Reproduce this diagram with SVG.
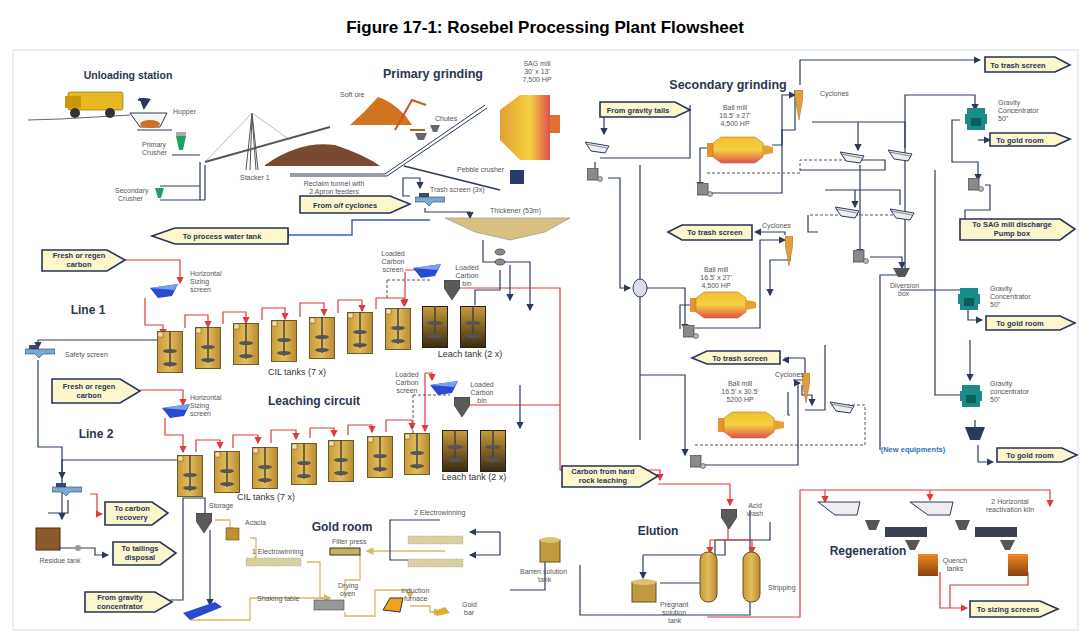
<svg xmlns="http://www.w3.org/2000/svg" width="1090" height="643" viewBox="0 0 1090 643">
<style>
text{font-family:"Liberation Sans",Arial,sans-serif;fill:#333}
.t{font-size:17px;font-weight:bold;fill:#000}
.h{font-weight:bold;fill:#2a3550}
.s{font-size:7px;fill:#555}
.tg{fill:#fbf6cc;stroke:#26335a;stroke-width:1.6}
.tt{font-size:7.5px;font-weight:bold;fill:#26335a;text-anchor:middle}
.n{fill:none;stroke:#2b3a5c;stroke-width:1.2}
.r{fill:none;stroke:#e03a3a;stroke-width:1.2}
.g{fill:none;stroke:#d8b86a;stroke-width:1.3}
.d{fill:none;stroke:#555;stroke-width:1;stroke-dasharray:3 2}
.bl{fill:none;stroke:#3a5ad0;stroke-width:1.4}
.pb{fill:#8a8a8a;stroke:#444;stroke-width:.8}
</style>
<defs>
<linearGradient id="tg" x1="0" y1="0" x2="1" y2="0"><stop offset="0" stop-color="#c99a3a"/><stop offset=".5" stop-color="#e3bc5a"/><stop offset="1" stop-color="#b88a30"/></linearGradient>
<linearGradient id="lg" x1="0" y1="0" x2="0" y2="1"><stop offset="0" stop-color="#c99a3a"/><stop offset="1" stop-color="#3a2a10"/></linearGradient>
<linearGradient id="mg" x1="0" y1="0" x2="0" y2="1"><stop offset="0" stop-color="#f0c030"/><stop offset=".5" stop-color="#f5d040"/><stop offset="1" stop-color="#e05050"/></linearGradient>
<linearGradient id="sg" x1="0" y1="0" x2="1" y2="0"><stop offset="0" stop-color="#e0a030"/><stop offset=".6" stop-color="#f5d040"/><stop offset="1" stop-color="#e05050"/></linearGradient>
<linearGradient id="og" x1="0" y1="0" x2="0" y2="1"><stop offset="0" stop-color="#f08a20"/><stop offset="1" stop-color="#8a4010"/></linearGradient>
<marker id="an" markerWidth="6" markerHeight="6" refX="5" refY="3" orient="auto"><path d="M0,0L6,3L0,6z" fill="#2b3a5c"/></marker>
<marker id="ar" markerWidth="6" markerHeight="6" refX="5" refY="3" orient="auto"><path d="M0,0L6,3L0,6z" fill="#e03a3a"/></marker>
<marker id="ag" markerWidth="6" markerHeight="6" refX="5" refY="3" orient="auto"><path d="M0,0L6,3L0,6z" fill="#d8b86a"/></marker>
<symbol id="cil" viewBox="0 0 26 42" width="26" height="42"><rect x="0.5" y="0.5" width="25" height="41" fill="url(#tg)" stroke="#6b5a2a"/><rect x="1" y="1" width="5" height="5" fill="#f7e0a0" stroke="#6b5a2a" stroke-width=".5"/><line x1="13" y1="-4" x2="13" y2="36" stroke="#444" stroke-width="1.5"/><ellipse cx="13" cy="20" rx="7" ry="2" fill="#555"/><ellipse cx="13" cy="33" rx="7" ry="2" fill="#555"/></symbol>
<symbol id="lt" viewBox="0 0 26 42" width="26" height="42"><rect x="0.5" y="0.5" width="25" height="41" fill="url(#lg)" stroke="#222"/><line x1="13" y1="-4" x2="13" y2="36" stroke="#444" stroke-width="1.5"/><ellipse cx="13" cy="17" rx="8" ry="2" fill="#555"/><ellipse cx="13" cy="30" rx="8" ry="2" fill="#555"/></symbol>
<symbol id="mill" viewBox="0 0 70 30" width="70" height="30"><rect x="0" y="8" width="6" height="14" fill="#e89030"/><path d="M6,8L14,2H48L56,8V22L48,28H14L6,22z" fill="url(#mg)" stroke="#c07020" stroke-width=".6"/><path d="M56,10L66,12V18L56,20z" fill="#e8a030"/></symbol>
<symbol id="pbx" viewBox="0 0 16 14" width="16" height="14"><rect x="0" y="0" width="11" height="12" class="pb"/><circle cx="13" cy="11" r="2.5" fill="#bbb" stroke="#444" stroke-width=".6"/></symbol>
<symbol id="scr" viewBox="0 0 26 14" width="26" height="14"><path d="M0,2L24,6L20,13L6,11z" fill="#eee" stroke="#2b3a5c"/><line x1="1" y1="4" x2="22" y2="8" stroke="#2b3a5c" stroke-width=".6"/></symbol>
<symbol id="cyc" viewBox="0 0 8 30" width="8" height="30"><path d="M0,0H8V8L4,30L0,8z" fill="#e0a040" stroke="#a06a20" stroke-width=".5"/></symbol>
<symbol id="gc" viewBox="0 0 22 22" width="22" height="22"><rect x="2" y="0" width="18" height="22" fill="#1a8a8a"/><rect x="0" y="6" width="22" height="10" fill="#1a8a8a"/><rect x="6" y="10" width="10" height="8" fill="#0c5c5c"/></symbol>
<symbol id="hs" viewBox="0 0 30 14" width="30" height="14"><path d="M0,4L28,0L22,12L8,14z" fill="#2a4ad0"/><path d="M0,4L28,0L24,6z" fill="#7aa0f0"/></symbol>
<symbol id="cone" viewBox="0 0 16 20" width="16" height="20"><path d="M0,0H16V8L8,20L0,8z" fill="#5a5a5a" stroke="#333" stroke-width=".6"/></symbol>
<symbol id="ss" viewBox="0 0 30 14" width="30" height="14"><rect x="4" y="0" width="10" height="4" fill="#3a4a6a"/><path d="M0,4H30V9H18L14,13L10,9H0z" fill="#7aaad0" stroke="#2b3a5c" stroke-width=".6"/></symbol>
</defs>
<rect width="1090" height="643" fill="#fff"/>
<text class="t" x="545" y="33" text-anchor="middle">Figure 17-1: Rosebel Processing Plant Flowsheet</text>
<rect x="13" y="50" width="1065" height="580" fill="none" stroke="#e4eaf2" stroke-width="1.5"/>

<g id="titles">
<text class="h" x="128" y="79" font-size="10.5" text-anchor="middle">Unloading station</text>
<text class="h" x="433" y="78" font-size="12.5" text-anchor="middle">Primary grinding</text>
<text class="h" x="728" y="89" font-size="12.5" text-anchor="middle">Secondary grinding</text>
<text class="h" x="88" y="314" font-size="12" text-anchor="middle">Line 1</text>
<text class="h" x="314" y="405" font-size="12" text-anchor="middle">Leaching circuit</text>
<text class="h" x="96" y="438" font-size="12" text-anchor="middle">Line 2</text>
<text class="h" x="342" y="531" font-size="12" text-anchor="middle">Gold room</text>
<text class="h" x="658" y="535" font-size="12" text-anchor="middle">Elution</text>
<text class="h" x="868" y="555" font-size="12" text-anchor="middle">Regeneration</text>
<text x="913" y="452" font-size="7.5" font-weight="bold" text-anchor="middle" style="fill:#2a70c0">(New equipments)</text>
</g>

<g id="connectors">
<path d="M28,120L60,119L130,115" stroke="#666" fill="none"/>
<path d="M137,130H172M172,155H200M200,162V200M205,165V200M160,186H200M160,200H205" class="n" stroke-width="2"/>
<path d="M205,162L330,127" stroke="#555" stroke-width="2" fill="none"/>
<path d="M290,174H385L485,105M290,176H387L487,108" stroke="#2b3a5c" stroke-width="1" fill="none"/>
<path d="M404,166L500,190" stroke="#2b3a5c" stroke-width="1.5" fill="none"/>
<path d="M410,196H403V178H420V188" class="n" marker-end="url(#an)"/>
<path d="M425,208V212H470V218" class="n" marker-end="url(#an)"/>
<path d="M430,220H352V235H282" class="bl" marker-end="url(#an)"/>
<path d="M483,240V262H530V310" class="n" marker-end="url(#an)"/>
<path d="M690,105V158H600" class="n"/>
<path d="M604,115V134" class="n" marker-end="url(#an)"/>
<path d="M595,162V172M608,178H620V288H630" class="n" marker-end="url(#an)"/>
<path d="M640,288H685V330" class="n" marker-end="url(#an)"/>
<path d="M640,165V440" class="n"/>
<path d="M795,90V130H782V145H772" class="n"/>
<path d="M800,85V60H980" class="n" marker-end="url(#an)"/>
<path d="M710,148H700V188" class="n" marker-end="url(#an)"/>
<path d="M705,193H782V95H795" class="n" marker-end="url(#an)"/>
<path d="M812,122H905V148M858,122V150" class="n" marker-end="url(#an)"/>
<path d="M707,173H800V160H862" class="d"/>
<path d="M862,160H885V170H800" class="n"/>
<path d="M860,165V255" class="n" marker-end="url(#an)"/>
<path d="M825,190H900V205M855,190V207" class="n" marker-end="url(#an)"/>
<path d="M810,215H895" class="d"/>
<path d="M818,232H808V215" class="n"/>
<path d="M870,257H902V268" class="n" marker-end="url(#an)"/>
<path d="M900,275H880V450" class="n"/>
<path d="M905,275V95H975V110" class="n" marker-end="url(#an)"/>
<path d="M960,120H952V162H978V180" class="n" marker-end="url(#an)"/>
<path d="M978,140H990" class="n" marker-end="url(#an)"/>
<path d="M985,185H990V210H965V230H970" class="n" marker-end="url(#an)"/>
<path d="M900,290H965V300" class="n" marker-end="url(#an)"/>
<path d="M935,170V395H965" class="n"/>
<path d="M968,310V320H982" class="n" marker-end="url(#an)"/>
<path d="M970,340V380" class="n" marker-end="url(#an)"/>
<path d="M975,420V437" class="n" marker-end="url(#an)"/>
<path d="M978,445V462H993" class="n" marker-end="url(#an)"/>
<path d="M790,255V260H770V295" class="n" marker-end="url(#an)"/>
<path d="M690,305H680V329" class="n"/>
<path d="M695,328H760V240H785" class="n" marker-end="url(#an)"/>
<path d="M785,235V232H755" class="n" marker-end="url(#an)"/>
<path d="M640,375H685V455" class="n" marker-end="url(#an)"/>
<path d="M805,358V380H793" class="n"/>
<path d="M805,358H785V360H783" class="n" marker-end="url(#an)"/>
<path d="M802,385V395H812V405" class="n" marker-end="url(#an)"/>
<path d="M805,410H825V345" class="n"/>
<path d="M695,445H865V405H848" class="d"/>
<path d="M700,465H798V383H800" class="n" marker-end="url(#an)"/>
<path d="M788,392V415H790" class="n"/>
<path d="M125,260H180V283" class="r" marker-end="url(#ar)"/>
<path d="M145,298V325H163V335" class="r" marker-end="url(#ar)"/>
<g class="r"><path d="M185,328V315H208V327" marker-end="url(#ar)"/><path d="M223,324V312H246V323" marker-end="url(#ar)"/><path d="M262,320V308H285V319" marker-end="url(#ar)"/><path d="M300,317V303H324V315" marker-end="url(#ar)"/><path d="M338,313V300H362V311" marker-end="url(#ar)"/><path d="M376,309V298H404V306" marker-end="url(#ar)"/></g>
<path d="M405,272V305" class="r" marker-end="url(#ar)"/>
<path d="M405,270H432V273" class="r" marker-end="url(#ar)"/>
<path d="M455,288H560V470H567" class="r"/>
<path d="M387,280H430M387,280V300" class="d"/>
<path d="M510,265V300" class="n" marker-end="url(#an)"/>
<path d="M157,340H38V348" class="n" marker-end="url(#an)"/>
<path d="M475,305V290H500V270" class="n"/>
<path d="M38,360V447H62V519" class="n" marker-end="url(#an)"/>
<path d="M140,390H183V405" class="r" marker-end="url(#ar)"/>
<path d="M165,418V435H183V452" class="r" marker-end="url(#ar)"/>
<g class="r"><path d="M196,452V440H220V448" marker-end="url(#ar)"/><path d="M233,448V435H258V443" marker-end="url(#ar)"/><path d="M271,443V430H296V439" marker-end="url(#ar)"/><path d="M310,438V428H334V436" marker-end="url(#ar)"/><path d="M348,435V425H372V432" marker-end="url(#ar)"/><path d="M386,432V420H412V429" marker-end="url(#ar)"/></g>
<path d="M425,373V431" class="r" marker-end="url(#ar)"/>
<path d="M425,373H432V380" class="r" marker-end="url(#ar)"/>
<path d="M470,405H560" class="r"/>
<path d="M413,395H450M413,395V433" class="d"/>
<path d="M520,385V428" class="n" marker-end="url(#an)"/>
<path d="M177,460H62V478" class="n" marker-end="url(#an)"/>
<path d="M90,494H97V514H102" class="r" marker-end="url(#ar)"/>
<path d="M68,500V513H48" class="n"/>
<path d="M60,548H95V555H108" class="n" marker-end="url(#an)"/>
<path d="M170,600H183V498H205V515" class="n"/>
<path d="M210,530V605" class="n" marker-end="url(#an)"/>
<path d="M560,470H660V480" class="r" marker-end="url(#ar)"/>
<path d="M658,484H730V505" class="r" marker-end="url(#ar)"/>
<path d="M215,520H230V533" class="g" marker-end="url(#ag)"/>
<path d="M250,538H256V560H260" class="g" marker-end="url(#ag)"/>
<path d="M307,562H320V598H330" class="g" marker-end="url(#ag)"/>
<path d="M190,620H250V598H330" class="g" marker-end="url(#ag)"/>
<path d="M445,551H367" class="g" marker-end="url(#ag)"/>
<path d="M360,554V580H345V598" class="g"/>
<path d="M345,612V616H375V590H410V598" class="g" marker-end="url(#ag)"/>
<path d="M410,606H430V612H440" class="g" marker-end="url(#ag)"/>
<path d="M440,520H390V560H415" class="n"/>
<path d="M545,540V590H510" class="n"/>
<path d="M500,532H470" class="n" marker-end="url(#an)"/>
<path d="M500,532V555H470" class="n" marker-end="url(#an)"/>
<path d="M580,565V615H750V510" class="n"/>
<path d="M660,583H715V540H770V522" class="n"/>
<path d="M643,555H725V540" class="n"/>
<path d="M643,555V578" class="n" marker-end="url(#an)"/>
<path d="M728,526V540H752V553" class="r" marker-end="url(#ar)"/>
<path d="M728,540H710V553" class="r" marker-end="url(#ar)"/>
<path d="M707,617H800V490H1050V506" class="r" marker-end="url(#ar)"/>
<path d="M825,490V502" class="r" marker-end="url(#ar)"/>
<path d="M930,490V500" class="r" marker-end="url(#ar)"/>
<path d="M940,572V608H967" class="r" marker-end="url(#ar)"/>
<path d="M1028,572V585H950V608" class="r"/>
</g>

<g id="unloading">
<rect x="68" y="92" width="55" height="18" rx="2" fill="#e8b820" stroke="#7a5a10" stroke-width=".6"/>
<rect x="65" y="96" width="16" height="12" fill="#c8980a"/>
<circle cx="75" cy="113" r="5" fill="#333"/><circle cx="110" cy="113" r="5" fill="#333"/>
<path d="M138,100Q145,98 144,108" stroke="#2b3a5c" stroke-width="2" fill="none" marker-end="url(#an)"/>
<path d="M130,113H167L160,127H140z" fill="#f5f5f5" stroke="#2b3a5c"/><ellipse cx="150" cy="124" rx="10" ry="4" fill="#d07020"/>
<text class="s" x="173" y="114">Hopper</text>
<path d="M176,136H186L183,150H179z" fill="#20a060"/><rect x="176" y="132" width="10" height="4" fill="#aaa"/>
<text class="s" x="142" y="147">Primary</text><text class="s" x="142" y="155">Crusher</text>
<path d="M155,188H164L161,198H158z" fill="#20a060"/>
<text class="s" x="115" y="193">Secondary</text><text class="s" x="118" y="201">Crusher</text>
<path d="M250,170L252,115L256,170M246,170L252,113L258,170" stroke="#555" fill="none"/>
<path d="M252,113L205,162M252,113L290,140" stroke="#777" stroke-width=".5"/>
<text class="s" x="240" y="180">Stacker 1</text>
<path d="M265,165Q300,140 335,145Q365,155 380,166H265z" fill="#7a4a30"/>
<text class="s" x="334" y="186" text-anchor="middle">Reclaim tunnel with</text><text class="s" x="334" y="194" text-anchor="middle">2 Apron feeders</text>
</g>

<g id="primary">
<path d="M350,125Q365,112 378,97Q390,100 405,115L412,125z" fill="#d07420"/>
<text class="s" x="340" y="97">Soft ore</text>
<path d="M395,130L412,100L426,105M410,130H425" stroke="#c05a20" stroke-width="2" fill="none"/>
<path d="M430,125H440L437,132H433z M415,133H427L424,140H418z" fill="#666"/>
<text class="s" x="435" y="121">Chutes</text>
<path d="M500,110L520,95H550V160H520L500,140z" fill="url(#sg)"/><rect x="550" y="115" width="10" height="18" fill="#e07030"/>
<text class="s" x="537" y="66" text-anchor="middle">SAG mill</text><text class="s" x="537" y="74" text-anchor="middle">30' x 13'</text><text class="s" x="537" y="82" text-anchor="middle">7,500 HP</text>
<use href="#scr" x="585" y="140"/>
<use href="#pbx" x="587" y="168"/>
<rect x="510" y="170" width="14" height="14" fill="#2a3a6a"/>
<text class="s" x="457" y="172">Pebble crusher</text>
<use href="#ss" x="415" y="193"/>
<text class="s" x="430" y="192">Trash screen (3x)</text>
<path d="M445,218H570L545,232L510,240L475,232z" fill="#d8c080" stroke="#888" stroke-width=".6"/>
<text class="s" x="490" y="213">Thickener (53m)</text>
<ellipse cx="500" cy="252" rx="5" ry="3" class="pb"/><ellipse cx="500" cy="262" rx="5" ry="3" class="pb"/>
</g>

<g id="secondary">
<use href="#cyc" x="795" y="90"/><text class="s" x="820" y="96">Cyclones</text>
<use href="#mill" x="707" y="135"/>
<text class="s" x="735" y="110" text-anchor="middle">Ball mill</text><text class="s" x="735" y="118" text-anchor="middle">16.5' x 27'</text><text class="s" x="735" y="126" text-anchor="middle">4,500 HP</text>
<use href="#pbx" x="697" y="183"/>
<use href="#scr" x="840" y="150"/><use href="#scr" x="888" y="148"/>
<use href="#scr" x="835" y="205"/><use href="#scr" x="890" y="207"/>
<use href="#pbx" x="853" y="250"/>
<use href="#cyc" x="785" y="236"/><text class="s" x="762" y="228">Cyclones</text>
<use href="#mill" x="690" y="290"/>
<text class="s" x="716" y="272" text-anchor="middle">Ball mill</text><text class="s" x="716" y="280" text-anchor="middle">16.5' x 27'</text><text class="s" x="716" y="288" text-anchor="middle">4,500 HP</text>
<use href="#pbx" x="683" y="325"/>
<ellipse cx="640" cy="288" rx="7" ry="9" fill="#dde" stroke="#2b3a5c"/>
<path d="M893,268H910L905,277H898z" fill="#555"/>
<text class="s" x="890" y="288">Diversion</text><text class="s" x="898" y="296">box</text>
<use href="#pbx" x="968" y="178"/>
<use href="#gc" x="965" y="108"/><text class="s" x="998" y="105">Gravity</text><text class="s" x="998" y="113">Concentrator</text><text class="s" x="998" y="121">50"</text>
<use href="#gc" x="958" y="288"/><text class="s" x="990" y="291">Gravity</text><text class="s" x="990" y="299">Concentrator</text><text class="s" x="990" y="307">50"</text>
<use href="#gc" x="960" y="385"/><text class="s" x="990" y="386">Gravity</text><text class="s" x="990" y="394">concentrator</text><text class="s" x="990" y="402">50"</text>
<path d="M965,427H985L980,440H970z" fill="#2a3a5a"/>
<use href="#cyc" x="802" y="373"/><text class="s" x="775" y="377">Cyclones</text>
<use href="#scr" x="830" y="400"/>
<use href="#mill" x="718" y="410"/>
<text class="s" x="740" y="386" text-anchor="middle">Ball mill</text><text class="s" x="740" y="394" text-anchor="middle">16.5' x 30.5'</text><text class="s" x="740" y="402" text-anchor="middle">5200 HP</text>
<use href="#pbx" x="690" y="455"/>
</g>

<g id="leaching">
<use href="#hs" x="150" y="284"/><text class="s" x="190" y="276">Horizontal</text><text class="s" x="190" y="284">Sizing</text><text class="s" x="190" y="292">screen</text>
<use href="#cil" x="157" y="331"/><use href="#cil" x="195" y="327"/><use href="#cil" x="233" y="323"/><use href="#cil" x="271" y="320"/><use href="#cil" x="309" y="317"/><use href="#cil" x="347" y="312"/><use href="#cil" x="385" y="308"/>
<use href="#lt" x="422" y="306"/><use href="#lt" x="460" y="306"/>
<text x="470" y="357" font-size="9" text-anchor="middle">Leach tank (2 x)</text>
<text x="297" y="375" font-size="9" text-anchor="middle">CIL tanks (7 x)</text>
<use href="#hs" x="413" y="264"/><use href="#cone" x="444" y="280"/>
<text class="s" x="393" y="256" text-anchor="middle">Loaded</text><text class="s" x="393" y="264" text-anchor="middle">Carbon</text><text class="s" x="393" y="272" text-anchor="middle">screen</text>
<text class="s" x="467" y="270" text-anchor="middle">Loaded</text><text class="s" x="467" y="278" text-anchor="middle">Carbon</text><text class="s" x="467" y="286" text-anchor="middle">bin</text>
<use href="#ss" x="25" y="345"/><text class="s" x="65" y="357">Safety screen</text>
<use href="#hs" x="162" y="404"/><text class="s" x="190" y="400">Horizontal</text><text class="s" x="190" y="408">Sizing</text><text class="s" x="190" y="416">screen</text>
<use href="#cil" x="177" y="455"/><use href="#cil" x="214" y="451"/><use href="#cil" x="252" y="447"/><use href="#cil" x="291" y="443"/><use href="#cil" x="328" y="440"/><use href="#cil" x="367" y="436"/><use href="#cil" x="404" y="433"/>
<use href="#lt" x="442" y="430"/><use href="#lt" x="480" y="430"/>
<text x="474" y="480" font-size="9" text-anchor="middle">Leach tank  (2 x)</text>
<text x="266" y="500" font-size="9" text-anchor="middle">CIL tanks (7 x)</text>
<use href="#hs" x="430" y="381"/><use href="#cone" x="454" y="397"/>
<text class="s" x="407" y="377" text-anchor="middle">Loaded</text><text class="s" x="407" y="385" text-anchor="middle">Carbon</text><text class="s" x="407" y="393" text-anchor="middle">screen</text>
<text class="s" x="482" y="387" text-anchor="middle">Loaded</text><text class="s" x="482" y="395" text-anchor="middle">Carbon</text><text class="s" x="482" y="403" text-anchor="middle">bin</text>
<use href="#ss" x="52" y="483"/>
<rect x="36" y="528" width="24" height="22" fill="#8a5a2a" stroke="#4a2a10"/>
<text class="s" x="60" y="563" text-anchor="middle">Residue tank</text>
<circle cx="78" cy="548" r="3" fill="#999"/>
</g>

<g id="goldroom">
<use href="#cone" x="196" y="513"/><text class="s" x="209" y="508">Storage</text>
<rect x="226" y="528" width="13" height="12" fill="#c09030" stroke="#6a5020" stroke-width=".6"/><text class="s" x="245" y="525">Acacia</text>
<rect x="246" y="558" width="55" height="8" fill="#d8d0a0" stroke="#999" stroke-width=".6" stroke-dasharray="1.5 1.5"/>
<text class="s" x="252" y="554">1 Electrowinning</text>
<path d="M183,613L215,602L222,607L190,620z" fill="#2a4ad0"/>
<text class="s" x="257" y="601">Shaking table</text>
<rect x="330" y="548" width="30" height="7" fill="#c8b060" stroke="#333"/>
<text class="s" x="332" y="544">Filter press</text>
<text class="s" x="338" y="588">Drying</text><text class="s" x="340" y="596">oven</text>
<rect x="314" y="600" width="30" height="10" fill="#999" stroke="#444" stroke-width=".6"/>
<path d="M383,610L390,598H403L400,612z" fill="#f0a020" stroke="#333"/>
<text class="s" x="401" y="593">Induction</text><text class="s" x="404" y="601">furnace</text>
<path d="M432,612L445,607L450,613L437,616z" fill="#e0b030"/>
<text class="s" x="462" y="607">Gold</text><text class="s" x="464" y="615">bar</text>
<text class="s" x="414" y="515">2 Electrowinning</text>
<rect x="408" y="536" width="55" height="8" fill="#d8d0a0" stroke="#999" stroke-width=".6" stroke-dasharray="1.5 1.5"/>
<rect x="408" y="559" width="55" height="8" fill="#d8d0a0" stroke="#999" stroke-width=".6" stroke-dasharray="1.5 1.5"/>
</g>

<g id="elution">
<rect x="540" y="540" width="20" height="22" fill="#c09a40" stroke="#6a5020"/><ellipse cx="550" cy="540" rx="10" ry="3" fill="#e0c070"/>
<text class="s" x="520" y="574">Barren solution</text><text class="s" x="538" y="582">tank</text>
<rect x="632" y="582" width="24" height="20" fill="#c09a40" stroke="#6a5020"/><ellipse cx="644" cy="582" rx="12" ry="3" fill="#e0c070"/>
<text class="s" x="660" y="607">Pregnant</text><text class="s" x="662" y="615">solution</text><text class="s" x="668" y="623">tank</text>
<use href="#cone" x="721" y="509"/><text class="s" x="755" y="508" text-anchor="middle">Acid</text><text class="s" x="755" y="516" text-anchor="middle">wash</text>
<rect x="700" y="552" width="17" height="50" rx="8" fill="url(#tg)" stroke="#6a5020"/>
<rect x="743" y="552" width="17" height="50" rx="8" fill="url(#tg)" stroke="#6a5020"/>
<text class="s" x="768" y="590">Stripping</text>
</g>

<g id="regeneration">
<path d="M818,502H860L857,515H835z" fill="#eee" stroke="#2b3a5c"/>
<path d="M910,502H953L950,515H928z" fill="#eee" stroke="#2b3a5c"/>
<path d="M865,520H880L876,530H869z" fill="#555"/><rect x="885" y="527" width="42" height="10" fill="#3a4050"/>
<path d="M955,520H970L966,530H959z" fill="#555"/><rect x="975" y="527" width="42" height="10" fill="#3a4050"/>
<path d="M905,540H920L915,550H910z" fill="#555"/><path d="M1000,540H1015L1010,550H1005z" fill="#555"/>
<rect x="918" y="554" width="20" height="22" fill="url(#og)"/>
<rect x="1008" y="554" width="20" height="22" fill="url(#og)"/>
<text class="s" x="955" y="563" text-anchor="middle">Quench</text><text class="s" x="955" y="571" text-anchor="middle">tanks</text>
<text class="s" x="1010" y="504" text-anchor="middle">2 Horizontal</text><text class="s" x="1010" y="512" text-anchor="middle">reactivation kiln</text>
</g>

<g id="tags">
<g><path class="tg" d="M985,57H1055L1070,65L1055,72H985z"/><text class="tt" x="1018" y="68">To trash screen</text></g>
<g><path class="tg" d="M600,102H675L690,110L675,117H600z"/><text class="tt" x="638" y="113">From gravity tails</text></g>
<g><path class="tg" d="M300,196H390L410,204L390,213H300z"/><text class="tt" x="345" y="208">From o/f  cyclones</text></g>
<g><path class="tg" d="M152,236L175,228H288V244H175z"/><text class="tt" x="222" y="239">To process water tank</text></g>
<g><path class="tg" d="M42,250H107L125,260L107,271H42z"/><text class="tt" x="79" y="258">Fresh or regen</text><text class="tt" x="79" y="267">carbon</text></g>
<g><path class="tg" d="M990,133H1055L1070,139L1055,146H990z"/><text class="tt" x="1020" y="143">To gold room</text></g>
<g><path class="tg" d="M960,219H1060L1075,229L1060,240H960z"/><text class="tt" x="1012" y="227">To SAG mill discharge</text><text class="tt" x="1012" y="236">Pump box</text></g>
<g><path class="tg" d="M668,232L682,225H752V240H682z"/><text class="tt" x="715" y="235">To trash screen</text></g>
<g><path class="tg" d="M986,316H1060L1075,323L1060,330H986z"/><text class="tt" x="1020" y="326">To gold room</text></g>
<g><path class="tg" d="M692,358L707,351H780V364H707z"/><text class="tt" x="740" y="361">To trash screen</text></g>
<g><path class="tg" d="M997,448H1062L1077,455L1062,462H997z"/><text class="tt" x="1030" y="458">To gold room</text></g>
<g><path class="tg" d="M52,379H120L140,391L120,403H52z"/><text class="tt" x="89" y="389">Fresh or regen</text><text class="tt" x="89" y="398">carbon</text></g>
<g><path class="tg" d="M105,502H152L168,513L152,525H105z"/><text class="tt" x="132" y="511">To carbon</text><text class="tt" x="132" y="520">recovery</text></g>
<g><path class="tg" d="M113,542H160L176,553L160,565H113z"/><text class="tt" x="140" y="551">To tailings</text><text class="tt" x="140" y="560">disposal</text></g>
<g><path class="tg" d="M85,592H155L172,602L155,612H85z"/><text class="tt" x="120" y="600">From gravity</text><text class="tt" x="120" y="609">concentrator</text></g>
<g><path class="tg" d="M562,466H640L658,476L640,487H562z"/><text class="tt" x="603" y="474">Carbon from hard</text><text class="tt" x="603" y="483">rock leaching</text></g>
<g><path class="tg" d="M970,601H1040L1058,609L1040,617H970z"/><text class="tt" x="1008" y="612">To sizing screens</text></g>
</g>
</svg>
